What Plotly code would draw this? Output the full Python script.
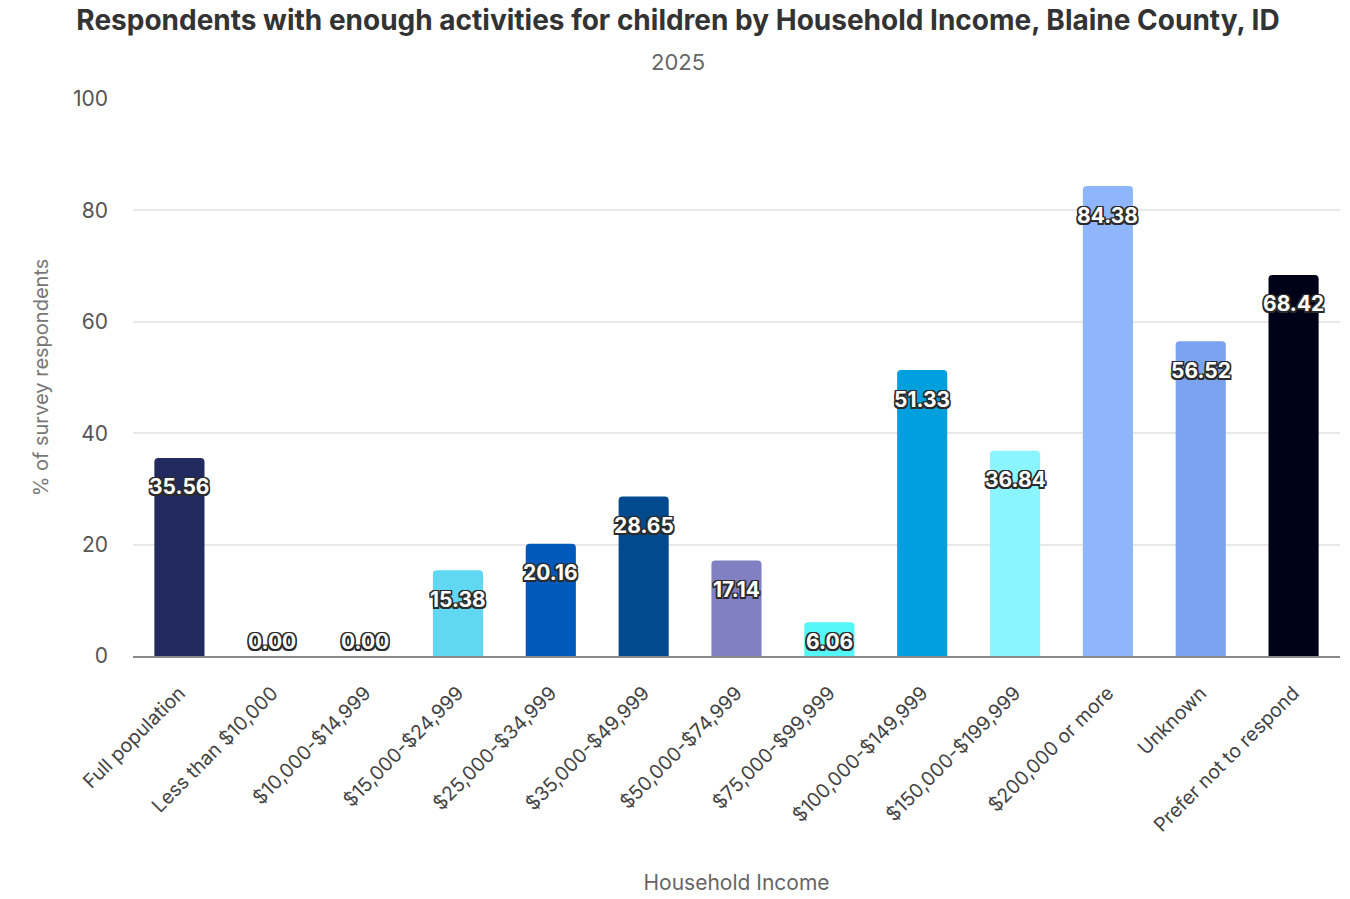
import plotly.graph_objects as go

# Survey results by household income bracket
categories = [
    "Full population", "Less than $10,000", "$10,000-$14,999", "$15,000-$24,999",
    "$25,000-$34,999", "$35,000-$49,999", "$50,000-$74,999", "$75,000-$99,999",
    "$100,000-$149,999", "$150,000-$199,999", "$200,000 or more", "Unknown",
    "Prefer not to respond",
]
values = [35.56, 0.00, 0.00, 15.38, 20.16, 28.65, 17.14, 6.06, 51.33, 36.84, 84.38, 56.52, 68.42]
colors = [
    "#222a60", "#222a60", "#222a60", "#60d8f2", "#0059bb", "#004a8d", "#8080c2",
    "#55f6f6", "#00a0df", "#8af5fc", "#8fb5fc", "#7ba3ef", "#00021a",
]

W, H = 1350, 899
M = dict(l=133, r=10, t=99, b=243)
plot_h = H - M["t"] - M["b"]
y_max = 100

FONT = "Inter, 'Open Sans', sans-serif"

fig = go.Figure()
fig.add_trace(go.Bar(
    x=categories,
    y=values,
    marker=dict(color=colors, cornerradius=4, line=dict(width=0)),
    width=0.54,
    hoverinfo="x+y",
))

# Value labels: centred just below each bar's top, kept clear of the baseline
outline = "#2b2b2b"
shadow = ", ".join(
    f"{dx}px {dy}px 0 {outline}" for dx in (-1.5, 0, 1.5) for dy in (-1.5, 0, 1.5) if dx or dy
)
for cat, v in zip(categories, values):
    bar_px = v / y_max * plot_h
    shift = max(-29, 15 - bar_px)
    fig.add_annotation(
        x=cat, y=v, xref="x", yref="y",
        text=f"{v:.2f}", showarrow=False,
        yanchor="middle", yshift=shift,
        font=dict(family=FONT, size=21, color="white", weight=700, shadow=shadow),
    )

fig.add_annotation(
    text="2025", xref="paper", yref="paper", x=(678 - M["l"]) / (W - M["l"] - M["r"]),
    y=(H - M["b"] - 62) / plot_h, showarrow=False, xanchor="center", yanchor="middle",
    font=dict(family=FONT, size=22, color="#666666"),
)

fig.update_layout(
    width=W, height=H,
    margin=M,
    paper_bgcolor="white",
    plot_bgcolor="white",
    showlegend=False,
    title=dict(
        text="Respondents with enough activities for children by Household Income, Blaine County, ID",
        x=678 / W, xref="container", xanchor="center",
        y=1 - 20 / H, yref="container", yanchor="middle",
        font=dict(family=FONT, size=28, color="#333333", weight=700),
    ),
    bargap=0.46,
    xaxis=dict(
        type="category",
        automargin=False,
        tickangle=-45,
        tickfont=dict(family=FONT, size=19.5, color="#444444"),
        showgrid=False,
        showline=True, linecolor="#8a8a8a", linewidth=2,
        ticks="", ticklen=0, ticklabelstandoff=16,
        title=dict(text="Household Income", standoff=40,
                   font=dict(family=FONT, size=21, color="#666666")),
    ),
    yaxis=dict(
        range=[0, y_max],
        automargin=False,
        tickvals=[0, 20, 40, 60, 80, 100],
        tickfont=dict(family=FONT, size=21, color="#555555"),
        showgrid=True, gridcolor="#e9e9e9", gridwidth=2,
        zeroline=False,
        ticks="", ticklabelstandoff=24,
        title=dict(text="% of survey respondents", standoff=18,
                   font=dict(family=FONT, size=20, color="#777777")),
    ),
)

fig.write_html("out.html")
